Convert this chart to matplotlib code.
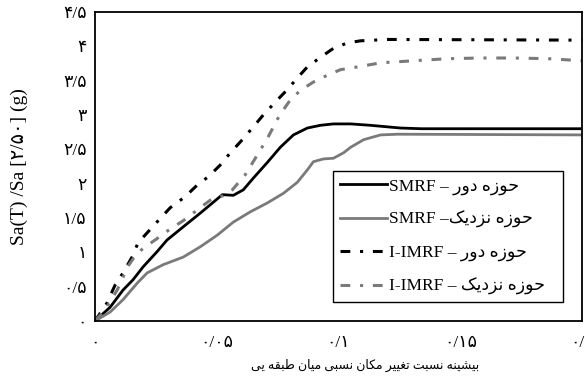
import matplotlib
matplotlib.use("Agg")
import matplotlib.pyplot as plt

# interstorey drift ratio vs normalised spectral acceleration
smrf_far_x = [0, 0.0062, 0.0115, 0.0156, 0.0198, 0.0255, 0.0296, 0.0362, 0.0432, 0.0486,
              0.0523, 0.0568, 0.0609, 0.0650, 0.0708, 0.0761, 0.0815, 0.0872, 0.0926,
              0.0979, 0.105, 0.113, 0.1255, 0.134, 0.2]
smrf_far_y = [0, 0.20, 0.45, 0.60, 0.79, 1.01, 1.18, 1.37, 1.57, 1.73,
              1.84, 1.83, 1.91, 2.08, 2.31, 2.53, 2.71, 2.81, 2.85,
              2.87, 2.87, 2.85, 2.81, 2.80, 2.80]

smrf_near_x = [0, 0.0062, 0.0115, 0.0173, 0.0214, 0.028, 0.0362, 0.0432, 0.0502, 0.0568,
               0.0638, 0.0708, 0.0774, 0.0831, 0.0872, 0.0897, 0.0938, 0.0979, 0.1021,
               0.105, 0.1103, 0.1173, 0.1243, 0.2]
smrf_near_y = [0, 0.13, 0.31, 0.55, 0.70, 0.82, 0.93, 1.08, 1.25, 1.44,
               1.59, 1.72, 1.86, 2.02, 2.20, 2.32, 2.36, 2.37, 2.45,
               2.53, 2.64, 2.71, 2.72, 2.71]

immrf_far_x = [0, 0.0049, 0.0082, 0.0115, 0.0152, 0.0177, 0.0226, 0.0267, 0.0309, 0.037,
               0.042, 0.0465, 0.0514, 0.0556, 0.0605, 0.0646, 0.0691, 0.0749, 0.079,
               0.0831, 0.0872, 0.0926, 0.0979, 0.1037, 0.109, 0.120, 0.2]
immrf_far_y = [0, 0.26, 0.52, 0.70, 0.93, 1.14, 1.33, 1.49, 1.65, 1.81,
               1.98, 2.10, 2.27, 2.45, 2.64, 2.81, 3.00, 3.22, 3.37,
               3.54, 3.70, 3.84, 3.97, 4.05, 4.08, 4.10, 4.09]

immrf_near_x = [0, 0.0041, 0.0091, 0.0136, 0.0165, 0.0198, 0.0247, 0.0305, 0.0362, 0.0432,
                0.0481, 0.0523, 0.0564, 0.0617, 0.0667, 0.0708, 0.0757, 0.0802, 0.0844,
                0.0897, 0.0955, 0.1008, 0.1078, 0.1173, 0.1309, 0.1449, 0.1584, 0.172,
                0.186, 0.2]
immrf_near_y = [0, 0.16, 0.45, 0.80, 0.95, 1.06, 1.18, 1.33, 1.46, 1.65,
                1.78, 1.82, 1.91, 2.13, 2.42, 2.66, 2.99, 3.22, 3.36,
                3.48, 3.58, 3.66, 3.70, 3.76, 3.79, 3.82, 3.83, 3.83,
                3.82, 3.79]

x_ticks = [0, 0.05, 0.1, 0.15, 0.2]
x_ticklabels = ["۰", "۰/۰۵", "۰/۱", "۰/۱۵", "۰/۲"]
y_ticks = [0, 0.5, 1, 1.5, 2, 2.5, 3, 3.5, 4, 4.5]
y_ticklabels = ["۰", "۰/۵", "۱", "۱/۵", "۲", "۲/۵", "۳", "۳/۵", "۴", "۴/۵"]

FAR = "حوزه دور"
NEAR = "حوزه نزدیک"
XLABEL = "بیشینه نسبت تغییر مکان نسبی میان طبقه یی"

# contextual forms: isolated, final, initial, medial (None = no forward join)
FORMS = {
    "ا": ("\uFE8D", "\uFE8E", None, None),
    "ب": ("\uFE8F", "\uFE90", "\uFE91", "\uFE92"),
    "ت": ("\uFE95", "\uFE96", "\uFE97", "\uFE98"),
    "ح": ("\uFEA1", "\uFEA2", "\uFEA3", "\uFEA4"),
    "د": ("\uFEA9", "\uFEAA", None, None),
    "ر": ("\uFEAD", "\uFEAE", None, None),
    "ز": ("\uFEAF", "\uFEB0", None, None),
    "س": ("\uFEB1", "\uFEB2", "\uFEB3", "\uFEB4"),
    "ش": ("\uFEB5", "\uFEB6", "\uFEB7", "\uFEB8"),
    "ط": ("\uFEC1", "\uFEC2", "\uFEC3", "\uFEC4"),
    "غ": ("\uFECD", "\uFECE", "\uFECF", "\uFED0"),
    "ق": ("\uFED5", "\uFED6", "\uFED7", "\uFED8"),
    "م": ("\uFEE1", "\uFEE2", "\uFEE3", "\uFEE4"),
    "ن": ("\uFEE5", "\uFEE6", "\uFEE7", "\uFEE8"),
    "ه": ("\uFEE9", "\uFEEA", "\uFEEB", "\uFEEC"),
    "و": ("\uFEED", "\uFEEE", None, None),
    "ی": ("\uFBFC", "\uFBFD", "\uFBFE", "\uFBFF"),
    "ک": ("\uFB8E", "\uFB8F", "\uFB90", "\uFB91"),
}


def shape(text):
    """Join Persian letters and lay them out right-to-left for plain LTR drawing."""
    out = []
    for i, ch in enumerate(text):
        f = FORMS.get(ch)
        if f is None:
            out.append(ch)
            continue
        prev = text[i - 1] if i > 0 else ""
        nxt = text[i + 1] if i + 1 < len(text) else ""
        jp = prev in FORMS and FORMS[prev][2] is not None
        jn = f[2] is not None and nxt in FORMS
        if jp and jn:
            out.append(f[3])
        elif jp:
            out.append(f[1])
        elif jn:
            out.append(f[2])
        else:
            out.append(f[0])
    return "".join(out)[::-1]


FAMILY = ["Liberation Serif", "DejaVu Sans"]
plt.rcParams["font.family"] = FAMILY

fig = plt.figure(figsize=(5.85, 3.83), dpi=100)
ax = fig.add_axes([0.1624, 0.1619, 0.8325, 0.8068])

DASHDOT = (0, (3.2, 3.2, 1.0, 3.2))
ax.plot(smrf_far_x, smrf_far_y, color="black", lw=2.0,
        label="SMRF – " + shape(FAR))
ax.plot(smrf_near_x, smrf_near_y, color="#7a7a7a", lw=2.0,
        label="SMRF –" + shape(NEAR))
ax.plot(immrf_far_x, immrf_far_y, color="black", lw=2.2, linestyle=DASHDOT,
        label="I-IMRF – " + shape(FAR))
ax.plot(immrf_near_x, immrf_near_y, color="#7a7a7a", lw=2.2, linestyle=DASHDOT,
        label="I-IMRF – " + shape(NEAR))

ax.set_xlim(0, 0.2)
ax.set_ylim(0, 4.5)
ax.set_xticks(x_ticks)
ax.set_xticklabels(x_ticklabels, fontsize=12.5)
ax.set_yticks(y_ticks)
ax.set_yticklabels(y_ticklabels, fontsize=12.5)
ax.tick_params(length=0)
ax.tick_params(axis="x", pad=10)
ax.tick_params(axis="y", pad=6)
for sp in ax.spines.values():
    sp.set_linewidth(1.3)
    sp.set_color("black")

ax.set_ylabel("Sa(T) /Sa [۲/۵۰] (g)", fontsize=14)
ax.yaxis.set_label_coords(-0.138, 0.5)
ax.set_xlabel(shape(XLABEL), fontsize=9)
ax.xaxis.set_label_coords(0.554, -0.122)

leg = ax.legend(loc="lower left", bbox_to_anchor=(0.4887, 0.061, 0.4723, 0.4),
                mode="expand", fontsize=12.5,
                handlelength=2.7, handletextpad=0.1, labelspacing=0.95,
                borderpad=0.4, fancybox=False, framealpha=1, borderaxespad=0)
leg.get_frame().set_edgecolor("black")
leg.get_frame().set_linewidth(1.0)

fig.savefig("out.png", dpi=100)
